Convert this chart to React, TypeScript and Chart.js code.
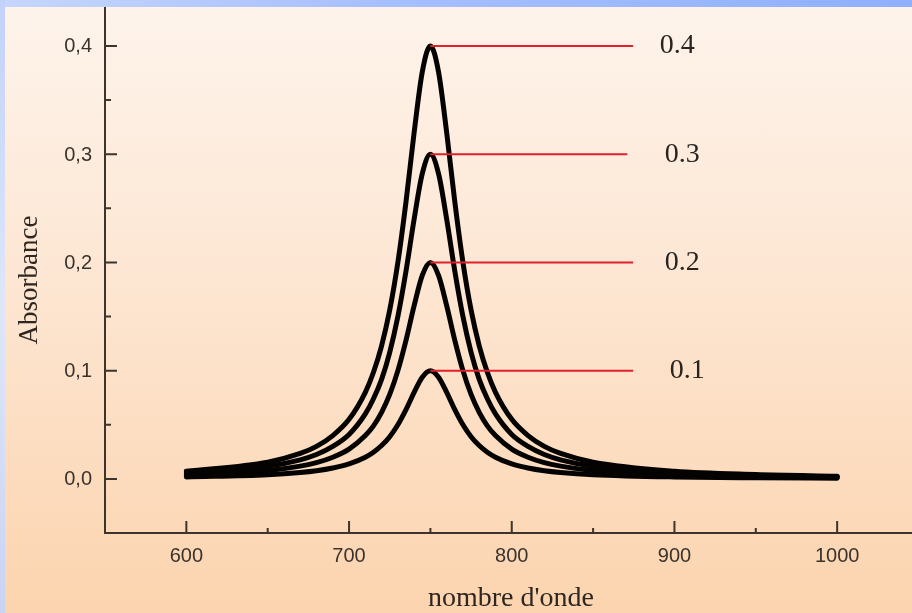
import React, { useEffect, useRef } from "react";
import { Chart, registerables } from "chart.js";
Chart.register(...registerables);

// Wavenumbers (x) sampled along the curves
const wavenumbers = [600, 650, 670, 680, 690, 700, 710, 715, 720, 725, 730, 735, 740, 745, 750, 755, 760, 765, 770, 775, 780, 785, 790, 800, 810, 820, 830, 850, 900, 950, 1000];
// Absorbance readings for each curve
const curve04 = [0.007, 0.0154, 0.0235, 0.03, 0.04, 0.055, 0.08, 0.0985, 0.123, 0.156, 0.2, 0.256, 0.32, 0.376, 0.4, 0.376, 0.32, 0.256, 0.2, 0.156, 0.123, 0.0985, 0.08, 0.055, 0.04, 0.03, 0.0235, 0.0154, 0.007, 0.004, 0.0025];
const curve03 = [0.0053, 0.0116, 0.0176, 0.0225, 0.03, 0.041, 0.06, 0.074, 0.092, 0.117, 0.15, 0.192, 0.24, 0.282, 0.3, 0.282, 0.24, 0.192, 0.15, 0.117, 0.092, 0.074, 0.06, 0.041, 0.03, 0.0225, 0.0176, 0.0116, 0.0053, 0.003, 0.0019];
const curve02 = [0.0035, 0.0077, 0.0118, 0.015, 0.02, 0.0275, 0.04, 0.049, 0.0615, 0.078, 0.1, 0.128, 0.16, 0.188, 0.2, 0.188, 0.16, 0.128, 0.1, 0.078, 0.0615, 0.049, 0.04, 0.0275, 0.02, 0.015, 0.0118, 0.0077, 0.0035, 0.002, 0.0013];
const curve01 = [0.0018, 0.0039, 0.0059, 0.0075, 0.01, 0.0138, 0.02, 0.0246, 0.0308, 0.039, 0.05, 0.064, 0.08, 0.094, 0.1, 0.094, 0.08, 0.064, 0.05, 0.039, 0.0308, 0.0246, 0.02, 0.0138, 0.01, 0.0075, 0.0059, 0.0039, 0.0018, 0.001, 0.0006];

// Red peak markers and their labels
const peakLevels = [0.4, 0.3, 0.2, 0.1];
const peakLabels = ["0.4", "0.3", "0.2", "0.1"];
const markerStart = 750;
const markerEnd = [874.6, 871, 874.6, 874.6];
const labelX = [901.7, 904.8, 904.8, 907.8];

// Axis ticks
const xTicks = [600, 700, 800, 900, 1000];
const xMinorTicks = [550, 650, 750, 850, 950];
const yTicks = [0, 0.1, 0.2, 0.3, 0.4];
const yTickLabels = ["0,0", "0,1", "0,2", "0,3", "0,4"];
const yMinorTicks = [0.05, 0.15, 0.25, 0.35];
const xTitle = "nombre d'onde";
const yTitle = "Absorbance";

const AXIS = "#3d342b";

const overlayPlugin = {
  id: "overlay",
  afterDatasetsDraw(chart: any) {
    const ctx = chart.ctx;
    const xs = chart.scales.x;
    const ys = chart.scales.y;
    const area = chart.chartArea;
    ctx.save();
    // axes lines
    ctx.strokeStyle = AXIS;
    ctx.lineWidth = 2;
    ctx.beginPath();
    ctx.moveTo(area.left, area.top);
    ctx.lineTo(area.left, area.bottom);
    ctx.lineTo(area.right, area.bottom);
    ctx.stroke();
    // ticks
    ctx.lineWidth = 2;
    ctx.beginPath();
    xTicks.forEach((v) => {
      const px = xs.getPixelForValue(v);
      ctx.moveTo(px, area.bottom);
      ctx.lineTo(px, area.bottom - 12);
    });
    xMinorTicks.forEach((v) => {
      const px = xs.getPixelForValue(v);
      ctx.moveTo(px, area.bottom);
      ctx.lineTo(px, area.bottom - 5);
    });
    yTicks.forEach((v) => {
      const py = ys.getPixelForValue(v);
      ctx.moveTo(area.left, py);
      ctx.lineTo(area.left + 12, py);
    });
    yMinorTicks.forEach((v) => {
      const py = ys.getPixelForValue(v);
      ctx.moveTo(area.left, py);
      ctx.lineTo(area.left + 6, py);
    });
    ctx.stroke();
    // tick labels
    ctx.fillStyle = "#3a332d";
    ctx.font = "20px 'Liberation Sans', Arial, sans-serif";
    ctx.textAlign = "center";
    ctx.textBaseline = "middle";
    xTicks.forEach((v) => {
      ctx.fillText(String(v), xs.getPixelForValue(v), 556);
    });
    ctx.textAlign = "right";
    yTicks.forEach((v, i) => {
      ctx.fillText(yTickLabels[i], area.left - 13, ys.getPixelForValue(v) + 1);
    });
    // axis titles
    ctx.fillStyle = "#2e2620";
    ctx.font = "28px 'Liberation Serif', 'Times New Roman', serif";
    ctx.textAlign = "center";
    ctx.textBaseline = "alphabetic";
    ctx.fillText(xTitle, 511, 606);
    ctx.save();
    ctx.translate(37, 280);
    ctx.rotate(-Math.PI / 2);
    ctx.font = "27px 'Liberation Serif', 'Times New Roman', serif";
    ctx.fillText(yTitle, 0, 0);
    ctx.restore();
    // peak labels
    ctx.font = "28px 'Liberation Serif', 'Times New Roman', serif";
    ctx.textBaseline = "middle";
    ctx.fillStyle = "#2a2420";
    peakLabels.forEach((t, i) => {
      ctx.fillText(t, xs.getPixelForValue(labelX[i]), ys.getPixelForValue(peakLevels[i]));
    });
    ctx.restore();
  },
};

export default function App() {
  const ref = useRef<HTMLCanvasElement | null>(null);
  useEffect(() => {
    document.body.style.margin = "0";
    const curves = [curve04, curve03, curve02, curve01];
    const markerSets = peakLevels.map((lv, i) => ({
      type: "line" as const,
      data: [
        { x: markerStart, y: lv },
        { x: markerEnd[i], y: lv },
      ],
      borderColor: "#e0202c",
      borderWidth: 2,
      pointRadius: 0,
      fill: false,
    }));
    const curveSets = curves.map((c) => ({
      type: "line" as const,
      data: wavenumbers.map((w, j) => ({ x: w, y: c[j] })),
      borderColor: "#050302",
      borderWidth: 5,
      borderCapStyle: "round" as const,
      borderJoinStyle: "round" as const,
      cubicInterpolationMode: "monotone" as const,
      pointRadius: 0,
      fill: false,
    }));
    const chart = new Chart(ref.current!, {
      type: "line",
      data: { datasets: [...markerSets, ...curveSets] as any },
      options: {
        responsive: false,
        animation: false,
        events: [],
        layout: { padding: { left: 105, top: 7, right: 0, bottom: 80 } },
        plugins: { legend: { display: false }, tooltip: { enabled: false } },
        scales: {
          x: { type: "linear", min: 550, max: 1046, display: false },
          y: { type: "linear", min: -0.05, max: 0.436, display: false },
        },
      },
      plugins: [overlayPlugin],
    });
    return () => chart.destroy();
  }, []);
  return (
    <div
      style={{
        position: "relative",
        width: 912,
        height: 613,
        overflow: "hidden",
        background: "linear-gradient(to bottom, #fef4ec 0%, #fde8d6 40%, #fcd4af 100%)",
      }}
    >
      <div
        style={{
          position: "absolute",
          left: 0,
          top: 0,
          width: 912,
          height: 7,
          background: "linear-gradient(to right, #c6d6fe, #a8c0ff 40%, #8fb0ff)",
        }}
      />
      <div
        style={{
          position: "absolute",
          left: 0,
          top: 0,
          width: 5,
          height: 613,
          background: "linear-gradient(to bottom, #c2d2fb, #dfe6f8 50%, #c8d4f4)",
        }}
      />
      <canvas ref={ref} width={912} height={613} style={{ position: "absolute", left: 0, top: 0, display: "block" }} />
    </div>
  );
}
